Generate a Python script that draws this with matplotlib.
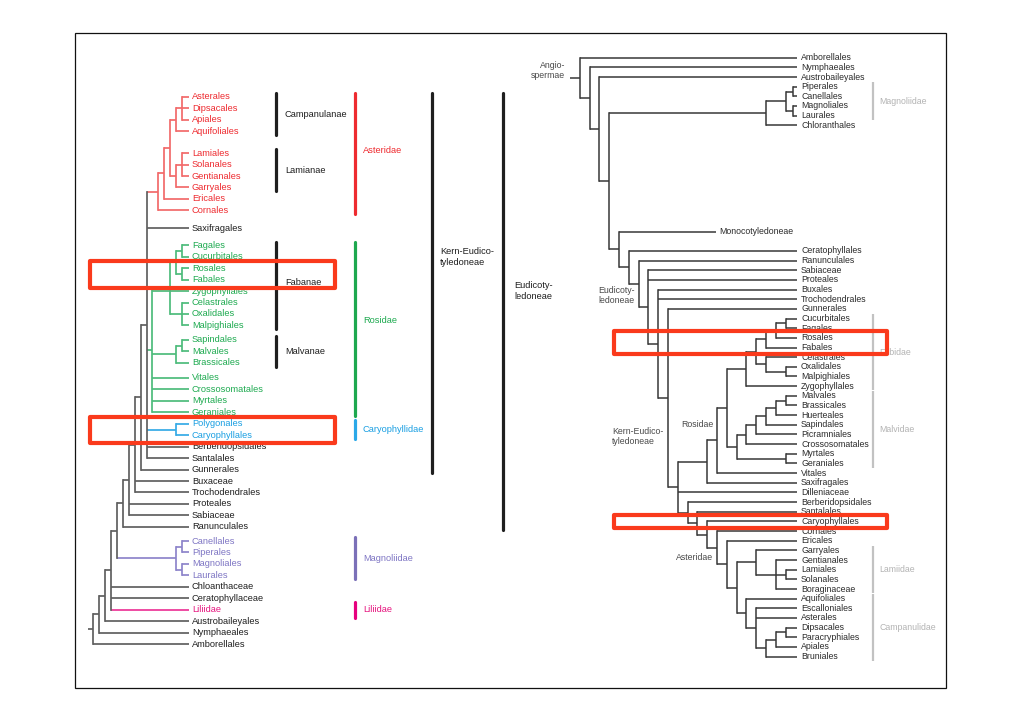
import matplotlib
matplotlib.use("Agg")
import matplotlib.pyplot as plt
from matplotlib.patches import Rectangle

plt.rcParams["font.family"] = ["Liberation Sans", "DejaVu Sans"]

# ============================ DATA ============================
# ---- left cladogram (coloured) ----
LEFT_LEAVES = ["Asterales", "Dipsacales", "Apiales", "Aquifoliales",
               "Lamiales", "Solanales", "Gentianales", "Garryales", "Ericales", "Cornales",
               "Saxifragales",
               "Fagales", "Cucurbitales", "Rosales", "Fabales", "Zygophyllales",
               "Celastrales", "Oxalidales", "Malpighiales",
               "Sapindales", "Malvales", "Brassicales",
               "Vitales", "Crossosomatales", "Myrtales", "Geraniales",
               "Polygonales", "Caryophyllales", "Berberidopsidales", "Santalales",
               "Gunnerales", "Buxaceae", "Trochodendrales", "Proteales", "Sabiaceae",
               "Ranunculales",
               "Canellales", "Piperales", "Magnoliales", "Laurales",
               "Chloanthaceae", "Ceratophyllaceae", "Liliidae", "Austrobaileyales",
               "Nymphaeales", "Amborellales"]
# extra blank space (in rows) after a leaf
LEFT_GAPS = {"Aquifoliales": 0.9, "Cornales": 0.55, "Saxifragales": 0.5,
             "Malpighiales": 0.27, "Brassicales": 0.32, "Ranunculales": 0.24}

# nodes: (depth level, [children], optional clade key)
AST_L = (12, [(13, [(14, [(15, [(16, ["Asterales", "Dipsacales", "Apiales"]), "Aquifoliales"]),
                          (15, [(16, ["Lamiales", "Solanales", "Gentianales"]), "Garryales"])]),
                    "Ericales"]),
              "Cornales"], "ast")
ROS_L = (11, [(14, [(15, [(16, ["Fagales", "Cucurbitales"]), (16, ["Rosales", "Fabales"])]),
                    (16, ["Celastrales", "Oxalidales", "Malpighiales"])]),
              "Zygophyllales",
              (15, [(16, ["Sapindales", "Malvales"]), "Brassicales"]),
              "Vitales", "Crossosomatales", "Myrtales", "Geraniales"], "ros")
CAR_L = (15, ["Polygonales", "Caryophyllales"], "car")
MAG_L = (15, [(16, ["Canellales", "Piperales"]), (16, ["Magnoliales", "Laurales"])], "mag")
LEFT_TREE = (1, [(2, [(3, [(4, [(5, [(6, [(7, [(8, [(9, [(10, [AST_L, "Saxifragales", ROS_L, CAR_L,
                                                               "Berberidopsidales", "Santalales"]),
                                                         "Gunnerales"]),
                                                   "Buxaceae", "Trochodendrales"]),
                                             "Proteales", "Sabiaceae"]),
                                       "Ranunculales"]),
                                 MAG_L]),
                           "Chloanthaceae", "Ceratophyllaceae", "Liliidae"]),
                     "Austrobaileyales"]),
               "Nymphaeales"]),
          "Amborellales"])
LEFT_LEAF_CLADE = {"Liliidae": "lil"}

# bracket annotations: label, first leaf, last leaf, clade key, column
LEFT_BAR_LABELS = ["Campanulanae", "Lamianae", "Fabanae", "Malvanae",
                   "Asteridae", "Rosidae", "Caryophyllidae", "Magnoliidae", "Liliidae",
                   "Kern-Eudico-\ntyledoneae", "Eudicoty-\nledoneae"]
LEFT_BAR_FIRST = ["Asterales", "Lamiales", "Fagales", "Sapindales",
                  "Asterales", "Fagales", "Polygonales", "Canellales", "Liliidae",
                  "Asterales", "Asterales"]
LEFT_BAR_LAST = ["Aquifoliales", "Garryales", "Malpighiales", "Brassicales",
                 "Cornales", "Geraniales", "Caryophyllales", "Laurales", "Liliidae",
                 "Gunnerales", "Ranunculales"]
LEFT_BAR_KEY = ["k", "k", "k", "k", "ast", "ros", "car", "mag", "lil", "k", "k"]
LEFT_BAR_COL = [0, 0, 0, 0, 1, 1, 1, 1, 1, 2, 3]
LEFT_BAR_ANCHOR = [None, None, None, None, None, None, None, None, None,
                   "Cucurbitales", "Zygophyllales"]
LEFT_HIGHLIGHT = [("Rosales", "Fabales"), ("Polygonales", "Caryophyllales")]

# ---- right cladogram (grey) ----
RIGHT_LEAVES = ["Amborellales", "Nymphaeales", "Austrobaileyales", "Piperales", "Canellales",
                "Magnoliales", "Laurales", "Chloranthales", "Monocotyledoneae",
                "Ceratophyllales", "Ranunculales", "Sabiaceae", "Proteales", "Buxales",
                "Trochodendrales", "Gunnerales", "Cucurbitales", "Fagales", "Rosales",
                "Fabales", "Celastrales", "Oxalidales", "Malpighiales", "Zygophyllales",
                "Malvales", "Brassicales", "Huerteales", "Sapindales", "Picramniales",
                "Crossosomatales", "Myrtales", "Geraniales", "Vitales", "Saxifragales",
                "Dilleniaceae", "Berberidopsidales", "Santalales", "Caryophyllales",
                "Cornales", "Ericales", "Garryales", "Gentianales", "Lamiales", "Solanales",
                "Boraginaceae", "Aquifoliales", "Escalloniales", "Asterales", "Dipsacales",
                "Paracryphiales", "Apiales", "Bruniales"]
RIGHT_GAPS = {"Chloranthales": 10, "Monocotyledoneae": 1}

R_MAGN = (20, [(22, [(22.8, ["Piperales", "Canellales"]), (22.8, ["Magnoliales", "Laurales"])]),
               "Chloranthales"])
R_FAB = (18, [(19, [(20, [(21, [(22, ["Cucurbitales", "Fagales"]), "Rosales"]), "Fabales"]),
                    (20, ["Celastrales", (22, ["Oxalidales", "Malpighiales"])])]),
              "Zygophyllales"])
R_MALV = (17, [(18, [(19, [(20, [(21, [(22, ["Malvales", "Brassicales"]), "Huerteales"]),
                                 "Sapindales"]),
                           "Picramniales"]),
                     "Crossosomatales"]),
               (22, ["Myrtales", "Geraniales"])])
R_LAM = (19, ["Garryales", (21, ["Gentianales", (22, ["Lamiales", "Solanales"]), "Boraginaceae"])])
R_CAMP = (18, ["Aquifoliales",
               (19, ["Escalloniales", "Asterales",
                     (20, [(21, [(22, ["Dipsacales", "Paracryphiales"]), "Apiales"]), "Bruniales"])])])
R_ASTER = (15, ["Cornales", (16, ["Ericales", (17, [R_LAM, R_CAMP])])])
R_CORE = (11, [(14, [(15, [(16, [R_FAB, R_MALV]), "Vitales"]), "Saxifragales"]),
               "Dilleniaceae",
               (12, ["Berberidopsidales", (13, ["Santalales", (14, ["Caryophyllales", R_ASTER])])])])
RIGHT_TREE = (1, ["Amborellales",
                  (2, ["Nymphaeales",
                       (3, ["Austrobaileyales",
                            (4, [R_MAGN,
                                 (5, ["Monocotyledoneae",
                                      (6, ["Ceratophyllales",
                                           (7, ["Ranunculales",
                                                (8, ["Sabiaceae", "Proteales",
                                                     (9, ["Buxales", "Trochodendrales",
                                                          (10, ["Gunnerales", R_CORE])])])])])])])])])])

RIGHT_BAR_LABELS = ["Magnoliidae", "Fabidae", "Malvidae", "Lamiidae", "Campanulidae"]
RIGHT_BAR_FIRST = ["Piperales", "Cucurbitales", "Malvales", "Garryales", "Aquifoliales"]
RIGHT_BAR_LAST = ["Laurales", "Zygophyllales", "Geraniales", "Boraginaceae", "Bruniales"]
RIGHT_NODE_LABELS = ["Angio-\nspermae", "Eudicoty-\nledoneae", "Kern-Eudico-\ntyledoneae",
                     "Rosidae", "Asteridae"]
RIGHT_HIGHLIGHT = [("Rosales", "Fabales"), ("Caryophyllales", "Caryophyllales")]

# ============================ LAYOUT / STYLE ============================
W, H = 1020, 720
L_X0, L_DX, L_Y0, L_DY = 87.4, 5.913, 97.0, 11.45
R_X0, R_DX, R_Y0, R_DY = 570.0, 9.8, 57.7, 9.66
L_TIP, L_STEM = 17.2, 0.15
R_TIP, R_STEM = 23.15, 0.0
R_TIP_OVERRIDE = {"Monocotyledoneae": 14.9}
L_LABEL_PX, R_LABEL_PX = 192, 801
R_LABEL_OVERRIDE_PX = {"Monocotyledoneae": 719}
L_BAR_PX = [276, 355, 432, 503]
L_BAR_TXT_PX = [285, 363, 440, 514]
L_BAR_TXT_DROW = [0, 0, -0.25, 0, -0.3, -0.75, 0, 0, 0, 0, 0]
R_BAR_PX, R_BAR_TXT_PX = 873, 879
R_NODE_LABEL_POS = [(565, 1.33, "right"), (598, 24.6, "left"), (612, 39.2, "left"),
                    (713, 38.0, "right"), (713, 51.7, "right")]
L_BOX_PX = (90, 335)
R_BOX_PX = (614, 887)

LINE_COL = {"k": "#5f5f5f", "ast": "#f26a6a", "ros": "#4dbb7b", "car": "#35aae6",
            "mag": "#8d84ca", "lil": "#ec3597"}
TEXT_COL = {"k": "#1f1f1f", "ast": "#ee2b30", "ros": "#1eaa50", "car": "#1a9fe2",
            "mag": "#7f76c4", "lil": "#e6157f"}
BAR_COL = {"k": "#1f1f1f", "ast": "#ee2b30", "ros": "#1ea84f", "car": "#2aa8e8",
           "mag": "#7b70b8", "lil": "#e6007e"}
L_FS, R_FS = 6.65, 6.3
BOX_COL = "#fa3a1c"

fig = plt.figure(figsize=(W / 100, H / 100), dpi=100)
fig.patch.set_facecolor("white")

# frame axes in pixel units
ax_f = fig.add_axes([0, 0, 1, 1])
ax_f.set_xlim(0, W)
ax_f.set_ylim(H, 0)
ax_f.axis("off")
ax_f.add_patch(Rectangle((75, 33), 871, 655, fill=False, ec="#111111", lw=0.9))


def tree_axes(x0, dx, y0, dy):
    ax = fig.add_axes([0, 0, 1, 1])
    ax.set_xlim(-x0 / dx, (W - x0) / dx)
    ax.set_ylim((H - y0) / dy, -y0 / dy)
    ax.axis("off")
    ax.patch.set_alpha(0)
    return ax


def leaf_rows(order, gaps):
    rows, r = {}, 0.0
    for name in order:
        rows[name] = r
        r += 1.0 + gaps.get(name, 0.0)
    return rows


def draw_tree(ax, tree, rows, tip, lw, line_col, leaf_keys, tip_over, stem):
    leaf_key = {}

    def walk(node, key):
        if isinstance(node, str):
            k = leaf_keys.get(node, key)
            leaf_key[node] = k
            return rows[node], tip_over.get(node, tip), k
        lvl, kids = node[0], node[1]
        k = node[2] if len(node) > 2 else key
        res = [walk(c, k) for c in kids]
        ys = [r[0] for r in res]
        for yc, xc, kc in res:
            ax.plot([lvl, xc], [yc, yc], color=line_col[kc], lw=lw,
                    solid_capstyle="butt", zorder=2)
        ax.plot([lvl, lvl], [min(ys), max(ys)], color=line_col[k], lw=lw,
                solid_capstyle="projecting", zorder=2)
        return (min(ys) + max(ys)) / 2.0, lvl, k

    y, x, k = walk(tree, "k")
    ax.plot([stem, x], [y, y], color=line_col[k], lw=lw, solid_capstyle="butt", zorder=2)
    return leaf_key


# ---------------- left tree ----------------
axL = tree_axes(L_X0, L_DX, L_Y0, L_DY)
lx = lambda px: (px - L_X0) / L_DX
lrows = leaf_rows(LEFT_LEAVES, LEFT_GAPS)
lkeys = draw_tree(axL, LEFT_TREE, lrows, L_TIP, 1.25, LINE_COL, LEFT_LEAF_CLADE, {}, L_STEM)
for name in LEFT_LEAVES:
    axL.text(lx(L_LABEL_PX), lrows[name], name, fontsize=L_FS, color=TEXT_COL[lkeys[name]],
             ha="left", va="center", zorder=3)

for lab, a, b, key, col, anc, dr in zip(LEFT_BAR_LABELS, LEFT_BAR_FIRST, LEFT_BAR_LAST,
                                        LEFT_BAR_KEY, LEFT_BAR_COL, LEFT_BAR_ANCHOR,
                                        L_BAR_TXT_DROW):
    y1, y2 = lrows[a], lrows[b]
    pad = 0.32 if y2 > y1 else 0.7
    axL.plot([lx(L_BAR_PX[col])] * 2, [y1 - pad, y2 + pad], color=BAR_COL[key],
             lw=2.3, solid_capstyle="round", zorder=3)
    ty = (lrows[anc] if anc else (y1 + y2) / 2.0) + dr
    axL.text(lx(L_BAR_TXT_PX[col]), ty, lab, fontsize=L_FS, color=TEXT_COL[key],
             ha="left", va="center", linespacing=1.25, zorder=3)

for a, b in LEFT_HIGHLIGHT:
    y1, y2 = lrows[a] - 0.6, lrows[b] + 0.7
    axL.add_patch(Rectangle((lx(L_BOX_PX[0]), y1), lx(L_BOX_PX[1]) - lx(L_BOX_PX[0]), y2 - y1,
                            fill=False, ec=BOX_COL, lw=3.0, joinstyle="round", zorder=10))

# ---------------- right tree ----------------
axR = tree_axes(R_X0, R_DX, R_Y0, R_DY)
rx = lambda px: (px - R_X0) / R_DX
rrows = leaf_rows(RIGHT_LEAVES, RIGHT_GAPS)
grey = {"k": "#383838"}
draw_tree(axR, RIGHT_TREE, rrows, R_TIP, 1.1, grey, {}, R_TIP_OVERRIDE, R_STEM)
for name in RIGHT_LEAVES:
    axR.text(rx(R_LABEL_OVERRIDE_PX.get(name, R_LABEL_PX)), rrows[name], name, fontsize=R_FS,
             color="#2b2b2b", ha="left", va="center", zorder=3)

for lab, a, b in zip(RIGHT_BAR_LABELS, RIGHT_BAR_FIRST, RIGHT_BAR_LAST):
    y1, y2 = rrows[a], rrows[b]
    axR.plot([rx(R_BAR_PX)] * 2, [y1 - 0.45, y2 + 0.45], color="#c2c2c2", lw=1.6,
             solid_capstyle="butt", zorder=2)
    axR.text(rx(R_BAR_TXT_PX), (y1 + y2) / 2.0, lab, fontsize=R_FS, color="#b3b3b3",
             ha="left", va="center", zorder=2)

for lab, (px, row, ha) in zip(RIGHT_NODE_LABELS, R_NODE_LABEL_POS):
    axR.text(rx(px), row, lab, fontsize=R_FS, color="#4a4a4a", ha=ha, va="center",
             linespacing=1.2, zorder=3)

for a, b in RIGHT_HIGHLIGHT:
    y1, y2 = rrows[a] - 0.68, rrows[b] + 0.72
    axR.add_patch(Rectangle((rx(R_BOX_PX[0]), y1), rx(R_BOX_PX[1]) - rx(R_BOX_PX[0]), y2 - y1,
                            fill=False, ec=BOX_COL, lw=3.0, joinstyle="round", zorder=10))

fig.savefig("out.png", dpi=100, facecolor="white")
